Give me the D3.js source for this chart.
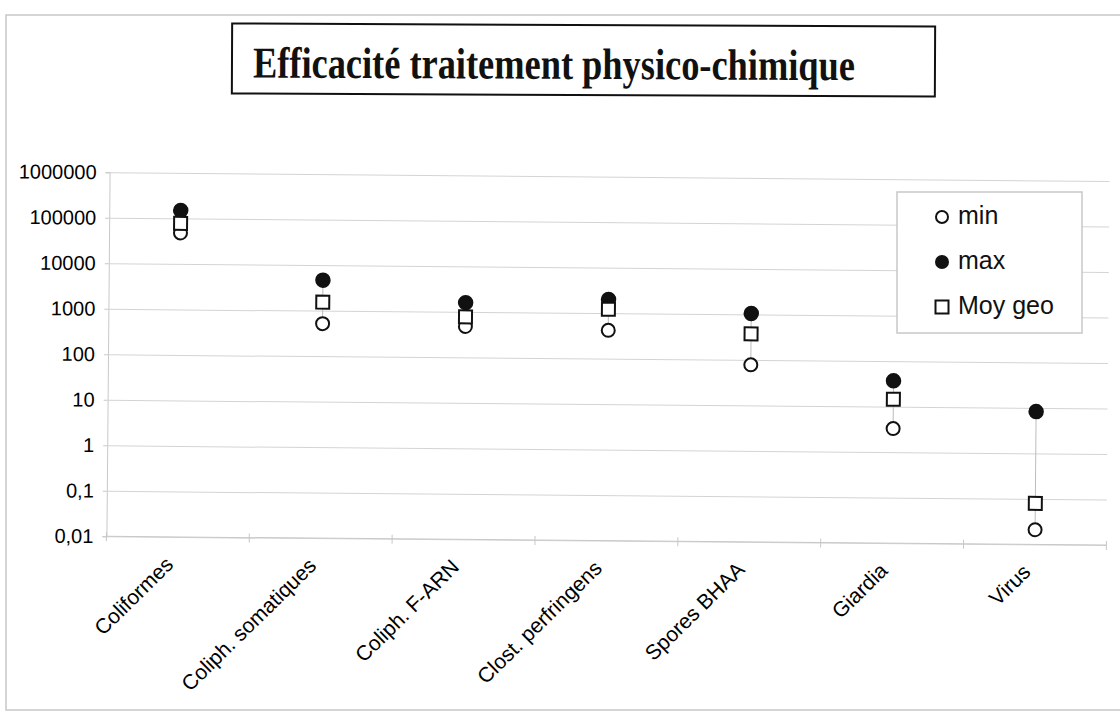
<!DOCTYPE html>
<html>
<head>
<meta charset="utf-8">
<script src="https://cdn.jsdelivr.net/npm/d3@7"></script>
<style>
  body { margin: 0; background: #fff; }
  svg { display: block; }
</style>
</head>
<body>
<div class="chart"></div>
<script>
// Data
const categories = ['Coliformes', 'Coliph. somatiques', 'Coliph. F-ARN', 'Clost. perfringens', 'Spores BHAA', 'Giardia', 'Virus'];
const minValues = [48000, 520, 480, 420, 78, 3.3, 0.021];
const maxValues = [150000, 4700, 1600, 2000, 1050, 37, 8.3];
const geoValues = [78000, 1540, 780, 1220, 375, 14.6, 0.08];
const yTicks = [0.01, 0.1, 1, 10, 100, 1000, 10000, 100000, 1000000];
const seriesNames = ['min', 'max', 'Moy geo'];
const title = 'Efficacité traitement physico-chimique';

// Sizes
const width = 1120;
const height = 715;
const plot = {left: 108, right: 1108, top: 176.7, bottom: 540.7};

const svg = d3.select('.chart').append('svg')
    .attr('width', width)
    .attr('height', height);

// Outer frame
svg.append('rect')
    .attr('x', 6).attr('y', 15)
    .attr('width', width + 10).attr('height', 695)
    .attr('fill', 'none')
    .attr('stroke', '#c8c8c8')
    .attr('stroke-width', 1.5);

// Title box
const titleG = svg.append('g').attr('transform', 'rotate(0.25, 583, 60)');
titleG.append('rect')
    .attr('x', 232).attr('y', 25)
    .attr('width', 703).attr('height', 70)
    .attr('fill', '#fff')
    .attr('stroke', '#111')
    .attr('stroke-width', 2);
titleG.append('text')
    .attr('x', 253).attr('y', 79)
    .attr('textLength', 602)
    .attr('lengthAdjust', 'spacingAndGlyphs')
    .style('font-family', '"Liberation Serif", "Times New Roman", serif')
    .style('font-weight', 'bold')
    .style('font-size', '44px')
    .attr('fill', '#111')
    .text(title);

// Scales
const xScale = d3.scaleBand()
    .domain(categories)
    .range([plot.left, plot.right]);
const yScale = d3.scaleLog()
    .domain([0.01, 1000000])
    .range([plot.bottom, plot.top]);

const fmt = d => String(d).replace('.', ',');

// Plot group (slightly tilted like the scanned original)
const chart = svg.append('g').attr('transform', 'rotate(0.5, 608, 358)');

// Y axis with gridlines
chart.append('g')
    .attr('transform', `translate(${plot.left}, 0)`)
    .call(d3.axisLeft(yScale).tickValues(yTicks).tickFormat(fmt).tickSize(4).tickPadding(9))
    .call(g => g.select('.domain').attr('stroke', '#c8c8c8'))
    .call(g => g.selectAll('.tick line').attr('stroke', '#c8c8c8'))
    .call(g => g.selectAll('.tick').append('line')
        .attr('x2', plot.right - plot.left)
        .attr('stroke', '#d4d4d4'))
    .call(g => g.selectAll('.tick text')
        .attr('fill', '#000')
        .style('font-family', '"Liberation Sans", Arial, sans-serif')
        .style('font-size', '20px'));

// X axis: ticks at category boundaries
const boundaries = categories.map(c => xScale(c)).concat([plot.right]);
const xAxisG = chart.append('g');
xAxisG.append('line')
    .attr('x1', plot.left).attr('x2', plot.right)
    .attr('y1', yScale(0.01)).attr('y2', yScale(0.01))
    .attr('stroke', '#c8c8c8');
xAxisG.selectAll('line.tk')
    .data(boundaries)
    .join('line')
        .attr('class', 'tk')
        .attr('x1', d => d).attr('x2', d => d)
        .attr('y1', yScale(0.01) - 4).attr('y2', yScale(0.01) + 5)
        .attr('stroke', '#c8c8c8');
xAxisG.selectAll('text')
    .data(categories)
    .join('text')
        .attr('transform', d => `translate(${xScale(d) + xScale.bandwidth() / 2 - 3}, ${yScale(0.01) + 29}) rotate(-45)`)
        .style('text-anchor', 'end')
        .style('font-family', '"Liberation Sans", Arial, sans-serif')
        .style('font-size', '21px')
        .attr('fill', '#000')
        .text(d => d);

// Data rows
const rows = categories.map((c, i) => ({cat: c, min: minValues[i], max: maxValues[i], geo: geoValues[i]}));
const cx = d => xScale(d.cat) + xScale.bandwidth() / 2;

// High-low lines
chart.append('g')
    .selectAll('line')
    .data(rows)
    .join('line')
        .attr('x1', cx).attr('x2', cx)
        .attr('y1', d => yScale(d.min)).attr('y2', d => yScale(d.max))
        .attr('stroke', '#bdbdbd')
        .attr('stroke-width', 1);

// min
chart.append('g')
    .selectAll('circle')
    .data(rows)
    .join('circle')
        .attr('cx', cx)
        .attr('cy', d => yScale(d.min))
        .attr('r', 6.5)
        .attr('fill', '#fff')
        .attr('stroke', '#111')
        .attr('stroke-width', 2);

// max
chart.append('g')
    .selectAll('circle')
    .data(rows)
    .join('circle')
        .attr('cx', cx)
        .attr('cy', d => yScale(d.max))
        .attr('r', 7)
        .attr('fill', '#111')
        .attr('stroke', '#111')
        .attr('stroke-width', 1.5);

// Moy geo
chart.append('g')
    .selectAll('rect')
    .data(rows)
    .join('rect')
        .attr('x', d => cx(d) - 6.5)
        .attr('y', d => yScale(d.geo) - 6.5)
        .attr('width', 13)
        .attr('height', 13)
        .attr('fill', '#fff')
        .attr('stroke', '#111')
        .attr('stroke-width', 2);

// Legend
const legend = svg.append('g');
legend.append('rect')
    .attr('x', 897).attr('y', 192)
    .attr('width', 185).attr('height', 141)
    .attr('fill', '#fff')
    .attr('stroke', '#c8c8c8')
    .attr('stroke-width', 1.5);

const legendItems = legend.selectAll('g.item')
    .data(seriesNames)
    .join('g')
        .attr('class', 'item')
        .attr('transform', (_, i) => `translate(942, ${217 + i * 45})`);

legendItems.filter(d => d === 'min').append('circle')
    .attr('r', 6).attr('fill', '#fff').attr('stroke', '#111').attr('stroke-width', 2);
legendItems.filter(d => d === 'max').append('circle')
    .attr('r', 7).attr('fill', '#111');
legendItems.filter(d => d === 'Moy geo').append('rect')
    .attr('x', -6.5).attr('y', -6.5).attr('width', 13).attr('height', 13)
    .attr('fill', '#fff').attr('stroke', '#111').attr('stroke-width', 2);

legendItems.append('text')
    .attr('x', 16)
    .attr('y', 7)
    .style('font-family', '"Liberation Sans", Arial, sans-serif')
    .style('font-size', '25px')
    .attr('fill', '#111')
    .text(d => d);
</script>
</body>
</html>
